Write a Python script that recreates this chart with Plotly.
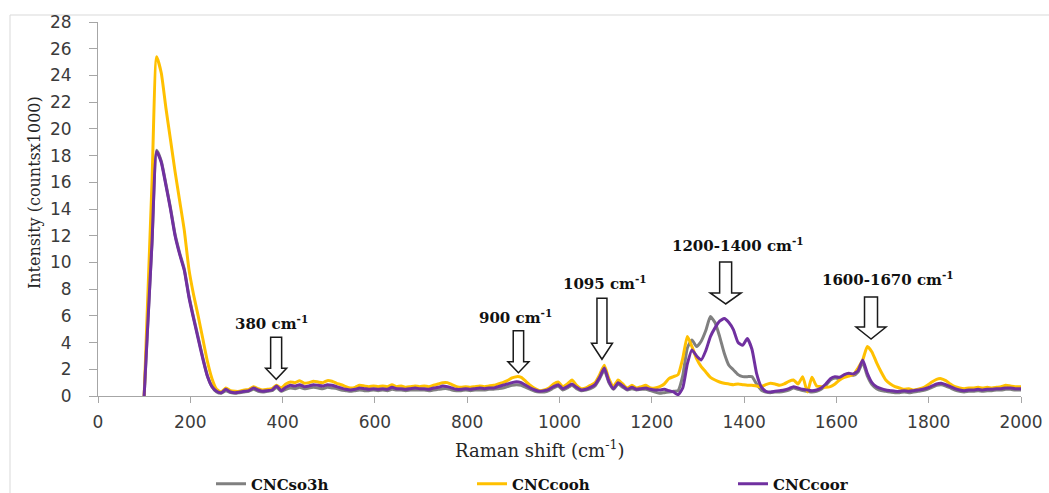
import plotly.graph_objects as go

# ---------------- data ----------------
raman_shift = [100] + list(range(107, 2000, 10)) + [2000]

cnc_so3h = [0,
    4.8, 11.5, 18.4, 17.6, 15.9, 14.1, 12.1, 10.7, 9.5, 7.5,
    5.9, 4.4, 2.9, 1.5, 0.7, 0.3, 0.2, 0.4, 0.25, 0.2,
    0.25, 0.3, 0.35, 0.5, 0.35, 0.3, 0.35, 0.4, 0.65, 0.35,
    0.5, 0.6, 0.55, 0.65, 0.55, 0.6, 0.65, 0.6, 0.55, 0.65,
    0.6, 0.55, 0.45, 0.4, 0.35, 0.4, 0.45, 0.4, 0.4, 0.45,
    0.4, 0.45, 0.4, 0.5, 0.45, 0.45, 0.4, 0.45, 0.45, 0.45,
    0.45, 0.4, 0.45, 0.5, 0.55, 0.55, 0.45, 0.4, 0.4, 0.45,
    0.4, 0.45, 0.45, 0.45, 0.5, 0.5, 0.55, 0.6, 0.7, 0.8,
    0.85, 0.8, 0.65, 0.5, 0.35, 0.3, 0.3, 0.4, 0.6, 0.75,
    0.45, 0.6, 0.8, 0.55, 0.4, 0.45, 0.55, 0.75, 1.3, 1.95,
    1.0, 0.5, 0.9, 0.65, 0.45, 0.55, 0.45, 0.5, 0.5, 0.4,
    0.3, 0.2, 0.25, 0.3, 0.35, 0.4, 1.5, 3.6, 4.2, 3.7,
    4.1, 4.9, 5.95, 5.5, 4.45, 3.2, 2.3, 1.95, 1.6, 1.45,
    1.45, 1.45, 0.9, 0.45, 0.3, 0.25, 0.3, 0.3, 0.35, 0.45,
    0.6, 0.5, 0.4, 0.35, 0.3, 0.35, 0.5, 0.8, 1.2, 1.35,
    1.3, 1.5, 1.6, 1.55, 1.8, 2.5, 1.5, 0.85, 0.55, 0.4,
    0.35, 0.3, 0.25, 0.25, 0.3, 0.25, 0.3, 0.35, 0.4, 0.5,
    0.65, 0.8, 0.85, 0.75, 0.6, 0.45, 0.35, 0.3, 0.35, 0.35,
    0.4, 0.35, 0.4, 0.4, 0.45, 0.45, 0.5, 0.5, 0.45, 0.45,
    0.45]

cnc_cooh = [0,
    6.6, 16.0, 25.4, 24.2, 21.6, 19.2, 16.8, 14.6, 12.4, 9.5,
    7.6, 6.0, 4.3, 2.6, 1.3, 0.5, 0.3, 0.6, 0.4, 0.35,
    0.35, 0.45, 0.5, 0.7, 0.55, 0.45, 0.5, 0.55, 0.8, 0.6,
    0.9, 1.05, 1.0, 1.15, 0.95, 1.0, 1.1, 1.05, 1.0, 1.15,
    1.1, 0.95, 0.85, 0.7, 0.6, 0.65, 0.8, 0.75, 0.7, 0.75,
    0.7, 0.75, 0.7, 0.85, 0.7, 0.75, 0.65, 0.7, 0.75, 0.7,
    0.75, 0.7, 0.8, 0.9, 1.0, 1.0, 0.85, 0.7, 0.65, 0.7,
    0.65, 0.7, 0.75, 0.7, 0.75, 0.8, 0.9, 1.0, 1.15, 1.35,
    1.45, 1.4, 1.1, 0.8, 0.55, 0.4, 0.45, 0.6, 0.9, 1.05,
    0.7, 0.9, 1.2, 0.8, 0.55, 0.6, 0.8, 1.0, 1.6, 2.3,
    1.3, 0.7, 1.2, 0.9, 0.6, 0.8, 0.6, 0.7, 0.8, 0.6,
    0.6, 0.7, 0.9, 1.3, 1.45, 1.6, 2.8, 4.45, 3.7, 2.8,
    2.2, 1.8, 1.4, 1.2, 1.05, 0.95, 0.9, 0.85, 0.9, 0.85,
    0.8, 0.8, 0.75, 0.7, 0.85, 0.95, 0.9, 0.8, 0.9, 1.1,
    1.2, 0.9, 1.45, 0.3, 1.4, 0.75, 0.7, 0.65, 0.7, 0.9,
    1.2, 1.4, 1.5, 1.6, 2.1, 2.7, 3.7, 3.3, 2.5, 1.8,
    1.2, 0.9, 0.7, 0.6, 0.5, 0.55, 0.45, 0.5, 0.6, 0.8,
    1.05, 1.25, 1.3, 1.15, 0.9, 0.7, 0.6, 0.55, 0.6, 0.6,
    0.65, 0.6, 0.65, 0.6, 0.65, 0.7, 0.8, 0.75, 0.7, 0.7,
    0.7]

cnc_coor = [0,
    4.8, 11.5, 18.3, 17.5, 15.8, 14.0, 12.0, 10.6, 9.4, 7.4,
    5.8, 4.3, 2.8, 1.5, 0.7, 0.35, 0.25, 0.5, 0.3, 0.25,
    0.3, 0.35, 0.4, 0.6, 0.45, 0.35, 0.4, 0.45, 0.75, 0.4,
    0.65, 0.8, 0.75, 0.85, 0.7, 0.75, 0.85, 0.8, 0.75, 0.85,
    0.8, 0.7, 0.6, 0.5, 0.45, 0.5, 0.6, 0.55, 0.5, 0.55,
    0.5, 0.55, 0.5, 0.65, 0.55, 0.55, 0.5, 0.55, 0.6, 0.55,
    0.55, 0.5, 0.6, 0.65, 0.75, 0.7, 0.6, 0.5, 0.5, 0.55,
    0.5, 0.55, 0.6, 0.55, 0.6, 0.6, 0.7, 0.8, 0.9, 1.0,
    1.07, 1.0, 0.8, 0.6, 0.45, 0.35, 0.4, 0.5, 0.7, 0.85,
    0.55, 0.7, 0.9, 0.65, 0.45, 0.5, 0.65, 0.85, 1.4, 2.1,
    1.1, 0.55, 1.0, 0.75, 0.5, 0.65, 0.5, 0.55, 0.6, 0.5,
    0.45, 0.45, 0.5, 0.4, 0.3, 0.1, 0.6, 2.4, 3.45, 3.0,
    2.7, 3.4, 4.45, 5.1, 5.6, 5.8, 5.5, 4.95, 4.0, 3.8,
    4.3, 3.5, 1.7, 0.7, 0.35, 0.3, 0.35, 0.4, 0.45, 0.55,
    0.7, 0.6, 0.5, 0.45, 0.4, 0.45, 0.6, 0.9, 1.3, 1.45,
    1.4, 1.6, 1.7, 1.65, 1.9, 2.7, 1.7, 1.0, 0.7, 0.55,
    0.45, 0.4, 0.35, 0.35, 0.4, 0.35, 0.4, 0.45, 0.5, 0.6,
    0.75, 0.9, 0.95, 0.85, 0.7, 0.55, 0.45, 0.4, 0.45, 0.45,
    0.5, 0.45, 0.5, 0.5, 0.55, 0.55, 0.6, 0.6, 0.55, 0.55,
    0.55]

series_names = ["CNCso3h", "CNCcooh", "CNCcoor"]
x_ticks = [0, 200, 400, 600, 800, 1000, 1200, 1400, 1600, 1800, 2000]
y_ticks = [0, 2, 4, 6, 8, 10, 12, 14, 16, 18, 20, 22, 24, 26, 28]

band_labels = ["380 cm<sup>-1</sup>", "900 cm<sup>-1</sup>", "1095 cm<sup>-1</sup>",
               "1200-1400 cm<sup>-1</sup>", "1600-1670 cm<sup>-1</sup>"]

# ---------------- styling / layout specs ----------------
colors = ["#808080", "#FFC000", "#7030A0"]

# (label x, label y, arrow tip x, arrow tip y, length px, head height px, head half width px, shaft half width px)
band_specs = [
    (375, 5.46, 386, 1.25, 42, 11, 10.5, 5.5),
    (904, 5.94, 911, 1.74, 42, 11, 10.5, 5.2),
    (1098, 8.46, 1092, 2.75, 61, 16, 10.5, 5.0),
    (1386, 11.3, 1360, 6.89, 42, 11, 15.5, 6.0),
    (1711, 8.73, 1675, 4.27, 42, 12, 15.0, 6.5),
]

fig = go.Figure()
for name, ys, c in zip(series_names, [cnc_so3h, cnc_cooh, cnc_coor], colors):
    fig.add_trace(go.Scatter(
        x=raman_shift, y=ys, name=name, mode="lines",
        line=dict(color=c, width=3, shape="spline", smoothing=0.5),
    ))

shapes = [
    dict(type="rect", xref="paper", yref="paper",
         x0=(10 - 98) / 923, x1=1.2, y0=-0.4, y1=(396 - 15) / 374,
         line=dict(color="#d9d9d9", width=1), fillcolor="rgba(0,0,0,0)", layer="below"),
]
annotations = []
for lab, (lx, ly, ax, ay, L, hh, hw, sw) in zip(band_labels, band_specs):
    path = (f"M 0,0 L {-hw},{hh} L {-sw},{hh} L {-sw},{L} L {sw},{L} "
            f"L {sw},{hh} L {hw},{hh} Z")
    shapes.append(dict(type="path", xref="x", yref="y",
                       xsizemode="pixel", ysizemode="pixel",
                       xanchor=ax, yanchor=ay, path=path,
                       fillcolor="white", line=dict(color="#1a1a1a", width=1.5)))
    annotations.append(dict(x=lx, y=ly, xref="x", yref="y", text=lab, showarrow=False,
                            font=dict(family="DejaVu Serif", size=15, color="#111111", weight="bold"),
                            xanchor="center", yanchor="middle"))

annotations.append(dict(x=(34 - 98) / 923, y=(396 - 193) / 374, xref="paper", yref="paper",
                        text="Intensity (countsx1000)", textangle=-90, showarrow=False,
                        font=dict(family="DejaVu Serif", size=16, color="#262626"),
                        xanchor="center", yanchor="middle"))
annotations.append(dict(x=(540 - 98) / 923, y=(396 - 449) / 374, xref="paper", yref="paper",
                        text="Raman shift (cm<sup>-1</sup>)", showarrow=False,
                        font=dict(family="DejaVu Serif", size=18, color="#262626"),
                        xanchor="center", yanchor="middle"))

fig.update_layout(
    width=1049, height=493,
    margin=dict(l=98, r=28, t=22, b=97, autoexpand=False),
    paper_bgcolor="white", plot_bgcolor="white",
    showlegend=True,
    legend=dict(orientation="h", x=(211 - 98) / 923, xanchor="left",
                y=(396 - 484) / 374, yanchor="middle",
                entrywidth=216, entrywidthmode="pixels",
                font=dict(family="DejaVu Serif", size=15, color="#111111", weight="bold"),
                bgcolor="rgba(0,0,0,0)"),
    shapes=shapes,
    annotations=annotations,
    xaxis=dict(range=[0, 2000], tickvals=x_ticks, ticktext=[str(v) for v in x_ticks],
               showgrid=False, zeroline=False, showline=True, linecolor="#a6a6a6", linewidth=1,
               ticks="outside", ticklen=6, tickcolor="#a6a6a6", ticklabelstandoff=5,
               automargin=False,
               tickfont=dict(family="DejaVu Sans", size=17, color="#3b3b3b")),
    yaxis=dict(range=[0, 28], tickvals=y_ticks, ticktext=[str(v) for v in y_ticks],
               showgrid=False, zeroline=False, showline=True, linecolor="#a6a6a6", linewidth=1,
               ticks="outside", ticklen=8, tickcolor="#a6a6a6", ticklabelstandoff=14,
               automargin=False,
               tickfont=dict(family="DejaVu Sans", size=17, color="#3b3b3b")),
)

fig.write_html("out.html")
